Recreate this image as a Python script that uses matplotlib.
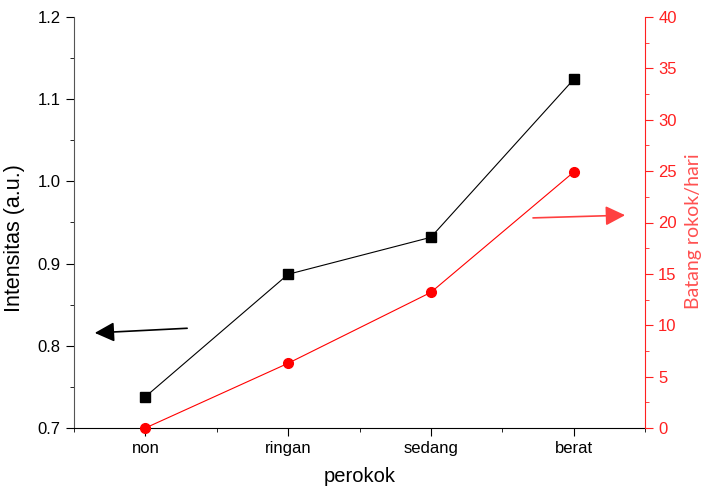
import numpy as np
import matplotlib.pyplot as plt
from matplotlib.ticker import MultipleLocator

categories = ["non", "ringan", "sedang", "berat"]
intensitas = [0.738, 0.887, 0.932, 1.124]
batang = [0.0, 6.3, 13.2, 24.9]

plt.rcParams['font.family'] = ['Liberation Sans', 'DejaVu Sans']

fig = plt.figure(figsize=(7.08, 4.93), dpi=100)
ax = fig.add_axes([74/708, 1 - 428/493, 571/708, 411/493])
x = np.arange(1, len(categories) + 1)

ax.plot(x, intensitas, color='black', lw=0.8, marker='s', ms=7, zorder=3)
ax.set_xlim(0.5, 4.5)
ax.set_ylim(0.7, 1.2)
ax.set_xticks(x)
ax.set_xticklabels(categories)
ax.xaxis.set_minor_locator(MultipleLocator(0.5))
ax.yaxis.set_major_locator(MultipleLocator(0.1))
ax.yaxis.set_minor_locator(MultipleLocator(0.05))
ax.tick_params(which='both', direction='out', labelsize=12)
ax.tick_params(which='major', length=6)
ax.tick_params(which='minor', length=3)
ax.spines['top'].set_visible(False)
ax.spines['right'].set_visible(False)
ax.spines['left'].set_color('#555555')
ax.set_ylabel("Intensitas (a.u.)", fontsize=15.5)
ax.yaxis.set_label_coords(-0.085, 0.462)
ax.set_xlabel("perokok", fontsize=14.5, labelpad=8)

ax2 = ax.twinx()
ax2.plot(x, batang, color='red', lw=0.8, marker='o', ms=7, zorder=3, clip_on=False)
ax2.set_ylim(0, 40)
ax2.yaxis.set_major_locator(MultipleLocator(5))
ax2.yaxis.set_minor_locator(MultipleLocator(2.5))
ax2.tick_params(which='both', direction='out', colors='#ff2020', labelsize=12)
ax2.tick_params(which='major', length=6)
ax2.tick_params(which='minor', length=3)
ax2.spines['top'].set_visible(False)
ax2.spines['left'].set_visible(False)
ax2.spines['bottom'].set_visible(False)
ax2.spines['right'].set_color('#ff2020')
ax2.set_ylabel("Batang rokok/hari", fontsize=14, color='#ff5050',
               family=['Lato', 'DejaVu Sans'])
ax2.yaxis.set_label_coords(1.07, 0.48)

ax.annotate("", xy=(0.0315, 0.231), xytext=(0.203, 0.243), xycoords='axes fraction',
            arrowprops=dict(arrowstyle='-|>', color='black', lw=1.2, mutation_scale=30))
ax.annotate("", xy=(0.970, 0.518), xytext=(0.799, 0.511), xycoords='axes fraction',
            arrowprops=dict(arrowstyle='-|>', color='#ff4040', lw=1.2, mutation_scale=30))

fig.savefig("out.png", dpi=100)
